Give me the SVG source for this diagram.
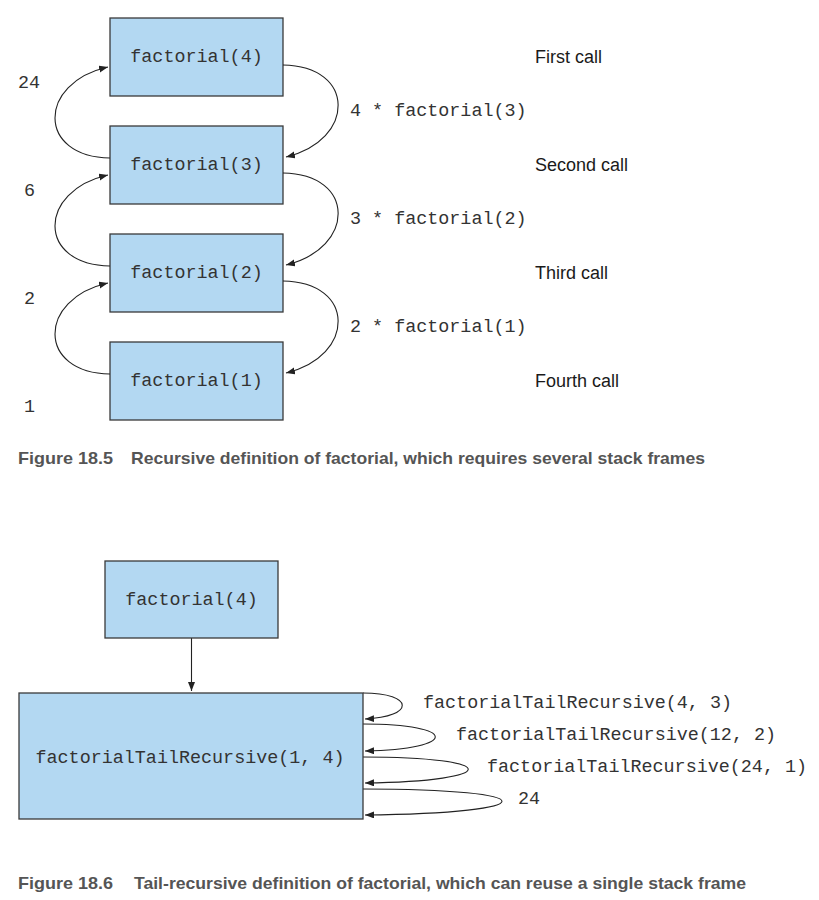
<svg xmlns="http://www.w3.org/2000/svg" width="819" height="900" viewBox="0 0 819 900">
<defs>
<marker id="ah" markerUnits="userSpaceOnUse" markerWidth="10" markerHeight="8" refX="9" refY="3.5" orient="auto">
<path d="M0,0 L9,3.5 L0,7 z" fill="#222"/>
</marker>
<style>
.box{fill:#b3d8f2;stroke:#3a3a3a;stroke-width:1.3}
.mono{font-family:"Liberation Mono","DejaVu Sans Mono",monospace;font-size:18.4px;fill:#333}
.sans{font-family:"Liberation Sans",Arial,sans-serif;font-size:18px;fill:#1a1a1a}
.cap{font-family:"Liberation Sans Narrow","Liberation Sans",sans-serif;font-weight:bold;font-size:17px;fill:#555}
.conn path,.conn line{fill:none;stroke:#222;stroke-width:1.1;marker-end:url(#ah)}
</style>
</defs>
<rect width="819" height="900" fill="#fff"/>

<g id="f4"><rect class="box" x="110" y="18" width="173" height="78"/><text class="mono" x="196.5" y="62" text-anchor="middle">factorial(4)</text></g>
<g id="f3"><rect class="box" x="110" y="126" width="173" height="78"/><text class="mono" x="196.5" y="170" text-anchor="middle">factorial(3)</text></g>
<g id="f2"><rect class="box" x="110" y="234" width="173" height="78"/><text class="mono" x="196.5" y="278" text-anchor="middle">factorial(2)</text></g>
<g id="f1"><rect class="box" x="110" y="342" width="173" height="78"/><text class="mono" x="196.5" y="386" text-anchor="middle">factorial(1)</text></g>

<g id="connectors" class="conn">
<path d="M283,65 C356,66 356,140 286,157"/>
<path d="M283,173 C356,174 356,248 286,265"/>
<path d="M283,281 C356,282 356,356 286,373"/>
<path d="M110,158 C37,157 37,83 108,67"/>
<path d="M110,266 C37,265 37,191 108,175"/>
<path d="M110,374 C37,373 37,299 108,283"/>
<line x1="191.5" y1="638" x2="191.5" y2="691"/>
<path d="M363,693 C415,693 415,717 365,719"/>
<path d="M363,724 C459,724 459,749 365,751"/>
<path d="M363,757 C503,757 503,781 365,783"/>
<path d="M363,789 C548,789 548,813 365,815"/>
</g>

<g id="labels">
<text class="mono" x="18" y="88">24</text>
<text class="mono" x="24" y="196">6</text>
<text class="mono" x="24" y="304">2</text>
<text class="mono" x="24" y="412">1</text>
<text class="mono" x="350" y="116">4 * factorial(3)</text>
<text class="mono" x="350" y="224">3 * factorial(2)</text>
<text class="mono" x="350" y="332">2 * factorial(1)</text>
<text class="sans" x="535" y="63">First call</text>
<text class="sans" x="535" y="171">Second call</text>
<text class="sans" x="535" y="279">Third call</text>
<text class="sans" x="535" y="387">Fourth call</text>
</g>

<g id="cap1">
<text class="cap" x="18" y="464" textLength="95" lengthAdjust="spacingAndGlyphs">Figure 18.5</text>
<text class="cap" x="131" y="464" textLength="574" lengthAdjust="spacingAndGlyphs">Recursive definition of factorial, which requires several stack frames</text>
</g>

<g id="t4"><rect class="box" x="105" y="561" width="173" height="77"/><text class="mono" x="191.5" y="605" text-anchor="middle">factorial(4)</text></g>
<g id="tail"><rect class="box" x="19" y="693" width="344" height="126"/><text class="mono" x="190" y="763" text-anchor="middle">factorialTailRecursive(1, 4)</text></g>

<g id="labels2">
<text class="mono" x="423" y="708">factorialTailRecursive(4, 3)</text>
<text class="mono" x="456" y="740">factorialTailRecursive(12, 2)</text>
<text class="mono" x="487" y="772">factorialTailRecursive(24, 1)</text>
<text class="mono" x="518" y="804">24</text>
</g>

<g id="cap2">
<text class="cap" x="18" y="889" textLength="95" lengthAdjust="spacingAndGlyphs">Figure 18.6</text>
<text class="cap" x="134" y="889" textLength="612" lengthAdjust="spacingAndGlyphs">Tail-recursive definition of factorial, which can reuse a single stack frame</text>
</g>
</svg>
